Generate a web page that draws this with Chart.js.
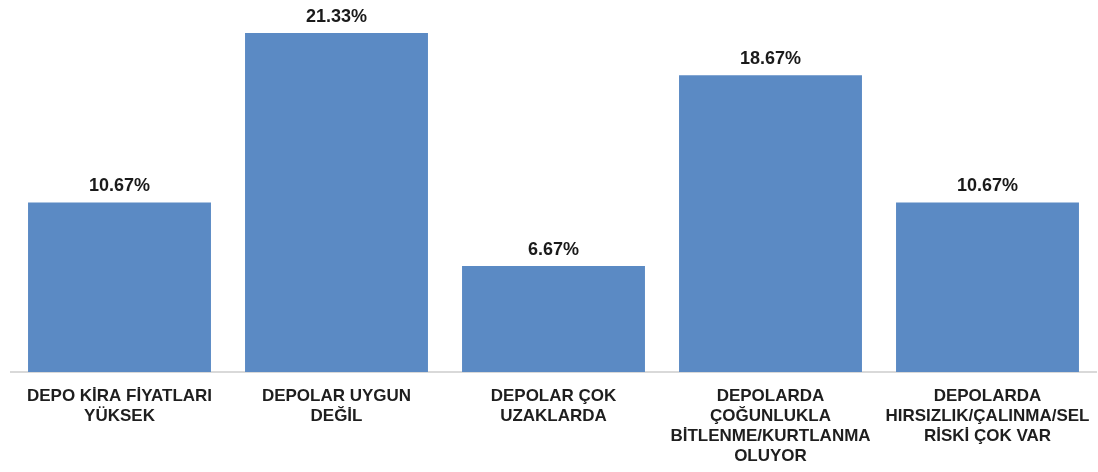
<!DOCTYPE html>
<html>
<head>
<meta charset="utf-8">
<script src="https://cdn.jsdelivr.net/npm/chart.js@4"></script>
<style>
  html, body { margin: 0; padding: 0; background: #ffffff; }
  #wrap { width: 1098px; height: 472px; position: relative; }
</style>
</head>
<body>
<div id="wrap"><canvas id="c"></canvas></div>
<script>
const categories = [
  ["DEPO KİRA FİYATLARI", "YÜKSEK"],
  ["DEPOLAR UYGUN", "DEĞİL"],
  ["DEPOLAR ÇOK", "UZAKLARDA"],
  ["DEPOLARDA", "ÇOĞUNLUKLA", "BİTLENME/KURTLANMA", "OLUYOR"],
  ["DEPOLARDA", "HIRSIZLIK/ÇALINMA/SEL", "RİSKİ ÇOK VAR"]
];
const values = [10.67, 21.33, 6.67, 18.67, 10.67];

const valueLabels = {
  id: 'valueLabels',
  afterDatasetsDraw(chart) {
    const ctx = chart.ctx;
    const meta = chart.getDatasetMeta(0);
    ctx.save();
    ctx.font = 'bold 18px "Liberation Sans", Arial, sans-serif';
    ctx.fillStyle = '#1a1a1a';
    ctx.textAlign = 'center';
    ctx.textBaseline = 'middle';
    meta.data.forEach((bar, i) => {
      ctx.fillText(values[i].toFixed(2) + '%', bar.x, bar.y - 16);
    });
    ctx.restore();
  }
};

new Chart(document.getElementById('c'), {
  type: 'bar',
  data: {
    labels: categories,
    datasets: [{
      data: values,
      backgroundColor: '#5B8AC4',
      borderWidth: 0,
      categoryPercentage: 1.0,
      barPercentage: 0.843
    }]
  },
  options: {
    responsive: true,
    maintainAspectRatio: false,
    animation: false,
    layout: { padding: { left: 11, right: 2, top: 0, bottom: 0 } },
    plugins: { legend: { display: false }, tooltip: { enabled: false } },
    scales: {
      x: {
        grid: { display: false, drawTicks: false },
        border: { display: true, color: '#d9d9d9', width: 2 },
        ticks: {
          color: '#1e1e1e',
          font: { family: '"Liberation Sans", Arial, sans-serif', size: 17, weight: 'bold', lineHeight: 1.18 },
          padding: 14,
          maxRotation: 0,
          autoSkip: false
        },
        afterFit(scale) {
          scale.height = 100;
          scale.paddingLeft = 0;
          scale.paddingRight = 0;
        }
      },
      y: {
        display: false,
        min: 0,
        max: 23.41
      }
    }
  },
  plugins: [valueLabels]
});
</script>
</body>
</html>
